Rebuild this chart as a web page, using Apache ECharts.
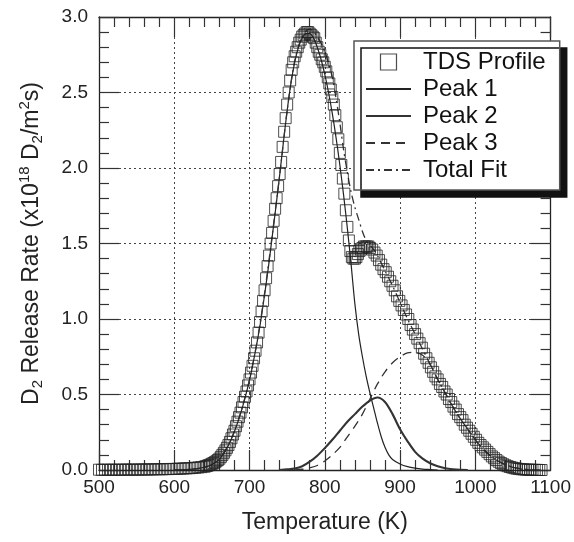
<!DOCTYPE html>
<html>
<head>
<meta charset="utf-8">
<script src="https://cdn.jsdelivr.net/npm/echarts@6/dist/echarts.min.js"></script>
<style>
html,body{margin:0;padding:0;background:#fff;}
#chart{width:574px;height:542px;}
</style>
</head>
<body>
<div id="chart"></div>
<script>
// ---- TDS profile (measured points) ----
var tdsT = [500,504,508,512,516,520,524,528,532,536,540,544,548,552,556,560,564,568,572,576,580,584,588,592,596,600,604,608,612,616,620,624,628,632,636,
640,642,644,646,648,650,652,654,656,658,660,662,664,666,668,670,672,674,676,678,680,682,684,686,688,690,692,694,696,698,
700,702,704,706,708,710,712,714,716,718,720,722,724,726,728,730,732,734,736,738,740,742,744,746,748,750,752,754,756,758,
760,762,764,766,768,770,772,774,776,778,780,782,784,786,788,790,792,794,796,798,800,802,804,806,808,810,812,814,816,818,
820,822,824,826,828,830,832,834,836,838,840,842,844,846,848,850,852,854,856,858,860,
863,866,869,872,875,878,881,884,887,890,893,896,899,902,905,908,911,914,917,920,923,926,929,932,935,938,941,944,947,950,
953,956,959,962,965,968,971,974,977,980,983,986,989,992,995,998,1001,1004,1007,1010,1013,1016,1019,1022,1025,1028,1031,1034,1037,1040,
1043,1046,1049,1052,1055,1058,1061,1064,1067,1070,1073,1076,1079,1082,1085,1088];
var tdsV = [0.002,0.001,0.002,0.001,0.002,0.002,0.001,0.002,0.002,0.003,0.002,0.003,0.002,0.003,0.003,0.004,0.003,0.004,0.004,0.005,0.005,0.005,0.006,0.006,0.007,0.007,0.008,0.009,0.010,0.011,0.012,0.013,0.015,0.017,0.019,
0.022,0.025,0.028,0.032,0.036,0.041,0.046,0.052,0.058,0.066,0.075,0.087,0.100,0.114,0.130,0.147,0.165,0.186,0.210,0.235,0.260,0.290,0.320,0.350,0.380,0.415,0.450,0.485,0.520,0.560,
0.600,0.645,0.690,0.740,0.790,0.845,0.910,0.980,1.050,1.120,1.190,1.270,1.350,1.420,1.500,1.570,1.650,1.730,1.800,1.880,1.960,2.040,2.140,2.240,2.330,2.420,2.500,2.580,2.650,2.700,
2.740,2.770,2.800,2.830,2.850,2.870,2.880,2.890,2.900,2.900,2.890,2.880,2.870,2.860,2.830,2.800,2.770,2.750,2.720,2.700,2.670,2.640,2.600,2.560,2.520,2.470,2.420,2.350,2.270,2.190,
2.100,2.020,1.930,1.830,1.720,1.610,1.520,1.450,1.410,1.400,1.400,1.410,1.430,1.450,1.460,1.470,1.480,1.480,1.480,1.480,1.470,
1.460,1.440,1.420,1.390,1.360,1.330,1.310,1.280,1.250,1.220,1.190,1.150,1.120,1.090,1.060,1.030,1.000,0.960,0.930,0.900,0.870,0.840,0.810,0.770,0.740,0.710,0.680,0.650,0.620,0.600,
0.570,0.550,0.520,0.500,0.470,0.450,0.420,0.400,0.370,0.350,0.330,0.300,0.280,0.260,0.240,0.220,0.200,0.180,0.165,0.150,0.135,0.120,0.105,0.090,0.078,0.066,0.055,0.046,0.038,0.031,
0.025,0.020,0.016,0.012,0.009,0.007,0.005,0.004,0.003,0.002,0.002,0.001,0.001,0.001,0.000,0.000];

// ---- Peak 1 ----
var p1T = [600,620,630,640,650,660,670,680,690,700,705,710,715,720,725,730,735,740,745,750,755,760,765,770,775,780,785,790,795,800,805,810,815,820,825,830,835,840,845,850,855,860,865,870,875,880,885,890,900,910,920,930,940,950];
var p1V = [0.000,0.004,0.008,0.018,0.035,0.072,0.145,0.255,0.405,0.595,0.715,0.845,0.990,1.160,1.340,1.540,1.740,1.950,2.170,2.380,2.560,2.700,2.800,2.860,2.890,2.890,2.860,2.800,2.720,2.620,2.500,2.360,2.200,2.020,1.820,1.600,1.360,1.100,0.900,0.750,0.620,0.510,0.410,0.310,0.220,0.150,0.100,0.070,0.040,0.022,0.012,0.006,0.003,0.000];

// ---- Peak 2 ----
var p2T = [740,750,760,770,780,790,800,810,820,830,840,850,860,870,880,890,900,910,920,930,940,950,960,970,980,990];
var p2V = [0.000,0.004,0.010,0.025,0.055,0.095,0.145,0.200,0.260,0.320,0.370,0.420,0.460,0.480,0.450,0.370,0.270,0.190,0.120,0.075,0.045,0.025,0.012,0.005,0.001,0.000];

// ---- Peak 3 ----
var p3T = [760,770,780,790,800,810,820,830,840,850,860,870,880,890,900,910,920,930,940,950,960,970,980,990,1000,1010,1020,1030,1040,1050,1060,1070,1080];
var p3V = [0.000,0.005,0.015,0.030,0.060,0.100,0.150,0.220,0.290,0.370,0.470,0.570,0.650,0.710,0.750,0.775,0.780,0.760,0.700,0.600,0.510,0.420,0.340,0.270,0.200,0.140,0.095,0.060,0.035,0.018,0.008,0.003,0.000];

// ---- Total fit ----
var fitT = [600,620,640,650,660,670,680,690,700,710,720,730,740,750,760,770,780,790,800,810,815,820,825,830,835,840,845,850,855,860,865,870,880,890,900,910,920,930,940,950,960,970,980,990,1000,1010,1020,1030,1040,1050,1060,1070,1080,1090];
var fitV = [0.000,0.004,0.018,0.036,0.074,0.148,0.258,0.410,0.600,0.850,1.170,1.550,1.950,2.380,2.710,2.870,2.920,2.870,2.770,2.600,2.460,2.300,2.120,1.970,1.840,1.740,1.660,1.580,1.520,1.490,1.460,1.420,1.320,1.220,1.110,1.000,0.900,0.800,0.700,0.600,0.510,0.420,0.340,0.270,0.200,0.140,0.095,0.060,0.035,0.018,0.008,0.003,0.001,0.000];

// ---- Axis ticks ----
var xTicks = [500,600,700,800,900,1000,1100];
var yTicks = [0.0,0.5,1.0,1.5,2.0,2.5,3.0];

function pairs(t, v) { return t.map(function (x, i) { return [x, v[i]]; }); }

var FONT = '"Liberation Sans", Arial, Helvetica, sans-serif';
var axisCommon = function (pos, showLabels, isX) {
  return {
    type: 'value',
    position: pos,
    min: isX ? xTicks[0] : yTicks[0],
    max: isX ? xTicks[xTicks.length - 1] : yTicks[yTicks.length - 1],
    interval: isX ? 100 : 0.5,
    axisLine: { show: true, onZero: false, lineStyle: { color: '#222', width: 1.3 } },
    axisTick: { show: true, inside: true, length: 20, lineStyle: { color: '#333', width: 1.2 } },
    minorTick: { show: true, splitNumber: 5, length: 10, lineStyle: { color: '#333', width: 1.2 } },
    minorSplitLine: { show: false },
    splitLine: showLabels ? { show: true, lineStyle: { color: '#444', width: 1, type: [2, 3] } } : { show: false },
    axisLabel: showLabels ? {
      show: true, color: '#222', fontSize: 19, fontFamily: FONT, margin: isX ? 8 : 11,
      formatter: isX ? function (v) { return String(v); } : function (v) { return v.toFixed(1); }
    } : { show: false }
  };
};

var xMain = axisCommon('bottom', true, true);
xMain.name = 'Temperature (K)';
xMain.nameLocation = 'middle';
xMain.nameGap = 41;
xMain.nameTextStyle = { fontSize: 23, color: '#222', fontFamily: FONT };
var xTop = axisCommon('top', false, true);

var yMain = axisCommon('left', true, false);
yMain.name = '{n|D}{sb|2}{n| Release Rate (x10}{sp|18}{n| D}{sb|2}{n|/m}{sp|2}{n|s)}';
yMain.nameLocation = 'middle';
yMain.nameGap = 53;
yMain.nameTextStyle = {
  color: '#222', fontFamily: FONT,
  rich: {
    n: { fontSize: 23, color: '#222', fontFamily: FONT, verticalAlign: 'middle' },
    sb: { fontSize: 15, color: '#222', fontFamily: FONT, verticalAlign: 'middle', padding: [12, 0, 0, 0] },
    sp: { fontSize: 15, color: '#222', fontFamily: FONT, verticalAlign: 'middle', padding: [0, 0, 14, 0] }
  }
};
var yRight = axisCommon('right', false, false);

var hideSym = { opacity: 0 };

var option = {
  animation: false,
  backgroundColor: '#fff',
  textStyle: { fontFamily: FONT },
  grid: { left: 99, right: 21, top: 17, bottom: 72, containLabel: false },
  xAxis: [xMain, xTop],
  yAxis: [yMain, yRight],
  legend: {
    orient: 'vertical',
    left: 354, top: 41,
    padding: [9, 14, 8, 11],
    itemGap: 3,
    itemWidth: 45, itemHeight: 16,
    symbolKeepAspect: true,
    backgroundColor: '#fff',
    borderColor: '#555', borderWidth: 1.5,
    shadowColor: '#111', shadowBlur: 0, shadowOffsetX: 7, shadowOffsetY: 7,
    textStyle: { fontSize: 24, color: '#111', fontFamily: FONT, padding: [0, 0, 0, 7] },
    data: [
      { name: 'TDS Profile', icon: 'path://M0,0 L10,0 L10,10 L0,10 Z',
        itemStyle: { color: 'rgba(0,0,0,0)', borderColor: '#222', borderWidth: 1.2 } },
      { name: 'Peak 1', itemStyle: hideSym },
      { name: 'Peak 2', itemStyle: hideSym },
      { name: 'Peak 3', itemStyle: hideSym },
      { name: 'Total Fit', itemStyle: hideSym }
    ]
  },
  series: [
    {
      name: 'Peak 1', type: 'line', data: pairs(p1T, p1V), symbol: 'none', smooth: 0.3,
      lineStyle: { color: '#222', width: 1.2 }, itemStyle: { color: '#222' }, z: 3
    },
    {
      name: 'Peak 2', type: 'line', data: pairs(p2T, p2V), symbol: 'none', smooth: 0.3,
      lineStyle: { color: '#333', width: 2.1 }, itemStyle: { color: '#333' }, z: 3
    },
    {
      name: 'Peak 3', type: 'line', data: pairs(p3T, p3V), symbol: 'none', smooth: 0.3,
      lineStyle: { color: '#333', width: 1.3, type: [9, 6] }, itemStyle: { color: '#333' }, z: 3
    },
    {
      name: 'Total Fit', type: 'line', data: pairs(fitT, fitV), symbol: 'none', smooth: 0.3,
      lineStyle: { color: '#333', width: 1.3, type: [8, 4, 2, 4] }, itemStyle: { color: '#333' }, z: 3
    },
    {
      name: 'TDS Profile', type: 'scatter', data: pairs(tdsT, tdsV),
      symbol: 'rect', symbolSize: 11,
      itemStyle: { color: 'rgba(0,0,0,0)', borderColor: '#222', borderWidth: 1 }, z: 4
    }
  ]
};

var chart = echarts.init(document.getElementById('chart'), null, { renderer: 'canvas' });
chart.setOption(option);
</script>
</body>
</html>
